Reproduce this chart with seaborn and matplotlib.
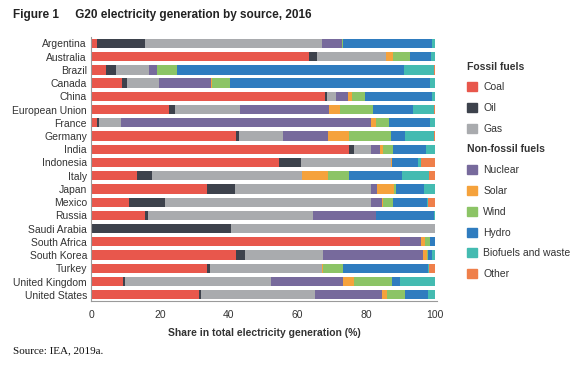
import numpy as np
import pandas as pd
import matplotlib
matplotlib.use('Agg')
import matplotlib.pyplot as plt
import seaborn as sns
from matplotlib.patches import Patch

# data (share of generation, %)
countries = ['Argentina', 'Australia', 'Brazil', 'Canada', 'China', 'European Union',
             'France', 'Germany', 'India', 'Indonesia', 'Italy', 'Japan', 'Mexico',
             'Russia', 'Saudi Arabia', 'South Africa', 'South Korea', 'Turkey',
             'United Kingdom', 'United States']
coal = [1.7, 63.5, 4.3, 9.1, 68.1, 22.6, 1.8, 42.1, 75.1, 54.5, 13.3, 33.7, 10.9, 15.7, 0, 89.7, 42.0, 33.8, 9.3, 31.5]
oil = [14.1, 2.3, 2.9, 1.3, 0.6, 1.9, 0.5, 1.0, 1.4, 6.4, 4.3, 8.2, 10.5, 0.8, 40.7, 0.2, 2.9, 0.7, 0.6, 0.6]
gas = [51.4, 19.9, 9.5, 9.4, 2.6, 18.7, 6.4, 12.8, 4.9, 26.4, 43.7, 39.4, 60.0, 48.1, 59.2, 0, 22.6, 32.7, 42.3, 33.0]
nuclear = [5.7, 0, 2.5, 15.2, 3.4, 26.1, 72.7, 13.1, 2.6, 0, 0, 1.7, 3.2, 18.1, 0, 6.0, 29.1, 0, 21.1, 19.5]
solar = [0.1, 2.2, 0.1, 0.3, 1.2, 3.2, 1.3, 6.1, 0.9, 0.1, 7.5, 5.1, 0.2, 0, 0.1, 1.2, 1.0, 0.3, 3.1, 1.3]
wind = [0.3, 4.8, 5.8, 5.0, 3.8, 9.5, 4.0, 12.1, 3.0, 0, 6.3, 0.5, 2.9, 0, 0, 1.5, 0.3, 5.8, 11.0, 5.3]
hydro = [25.8, 6.1, 66.0, 58.1, 19.4, 11.6, 11.7, 4.0, 9.5, 7.7, 15.3, 8.3, 9.9, 17.0, 0, 1.3, 1.2, 24.7, 2.5, 6.7]
biofuels = [0.9, 1.2, 8.6, 1.5, 0.8, 6.1, 1.6, 8.4, 2.6, 0.8, 7.8, 3.0, 0.5, 0.2, 0, 0.1, 0.9, 0.3, 10.1, 2.0]
other = [0, 0, 0.3, 0.1, 0.1, 0.3, 0, 0.4, 0, 4.1, 1.8, 0.1, 1.9, 0.1, 0, 0, 0, 1.7, 0, 0.1]

sources = ['Coal', 'Oil', 'Gas', 'Nuclear', 'Solar', 'Wind', 'Hydro', 'Biofuels and waste', 'Other']
colors = ['#e8574c', '#3d424c', '#a9abae', '#776a9c', '#f5a23c', '#8cc466',
          '#2f7cbf', '#44bbb1', '#ef7f4a']

df = pd.DataFrame({'Coal': coal, 'Oil': oil, 'Gas': gas, 'Nuclear': nuclear,
                   'Solar': solar, 'Wind': wind, 'Hydro': hydro,
                   'Biofuels and waste': biofuels, 'Other': other}, index=countries)
cum = df[sources].cumsum(axis=1)
cum['Country'] = countries

sns.set_style('white')
plt.rcParams['font.family'] = ['Liberation Sans', 'DejaVu Sans']
fs = 7.5
txt_col = '#333333'

fig = plt.figure(figsize=(5.8, 3.68), dpi=100)
ax = fig.add_axes([0.157, 0.181, 0.596, 0.719])

# stacked bars: draw cumulative totals from the right, each on top of the last
for src, col in reversed(list(zip(sources, colors))):
    sns.barplot(data=cum, x=src, y='Country', color=col, width=0.7,
                saturation=1, orient='h', ax=ax, edgecolor='none')

ax.set_xlim(0, 100.5)
ax.set_ylim(19.5, -0.5)
ax.set_xticks([0, 20, 40, 60, 80, 100])
ax.tick_params(axis='both', length=0, labelsize=fs, colors=txt_col, pad=3)
ax.tick_params(axis='x', pad=6)
ax.set_ylabel('')
ax.set_xlabel('Share in total electricity generation (%)', fontsize=fs,
              fontweight='bold', color=txt_col, labelpad=6)
sns.despine(ax=ax, top=True, right=True)
for s in ['left', 'bottom']:
    ax.spines[s].set_color('#9a9a9a')
    ax.spines[s].set_linewidth(0.8)

# legend with group headers
blank = Patch(visible=False)
handles = [blank] + [Patch(color=c) for c in colors[:3]] + [blank] + \
          [Patch(color=c) for c in colors[3:]]
labels = [''] + sources[:3] + [''] + sources[3:]
leg = fig.legend(handles, labels, loc='upper left', bbox_to_anchor=(0.798, 0.845),
                 frameon=False, fontsize=fs, handlelength=0.95, handleheight=0.95,
                 handletextpad=0.6, labelspacing=1.03, borderaxespad=0)
for t in leg.get_texts():
    t.set_color(txt_col)
fig.text(467 / 580, 1 - 67 / 368, 'Fossil fuels', fontsize=fs, fontweight='bold',
         color=txt_col, va='center', ha='left')
fig.text(467 / 580, 1 - 149 / 368, 'Non-fossil fuels', fontsize=fs, fontweight='bold',
         color=txt_col, va='center', ha='left')

fig.text(13 / 580, 1 - 15 / 368, 'Figure 1     G20 electricity generation by source, 2016',
         fontsize=8.5, fontweight='bold', color='#222222', va='center', ha='left')
fig.text(13 / 580, 1 - 351 / 368, 'Source: IEA, 2019a.', fontsize=8,
         family=['Liberation Serif', 'DejaVu Serif'], color='#111111', va='center', ha='left')

fig.savefig('out.png', dpi=100)
